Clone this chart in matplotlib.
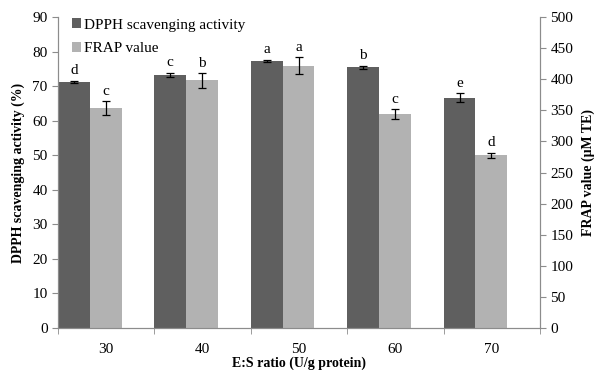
import numpy as np
import matplotlib
matplotlib.use("Agg")
import matplotlib.pyplot as plt

plt.rcParams['font.family'] = ['Liberation Serif', 'DejaVu Serif']

# data
ratios = ["30", "40", "50", "60", "70"]
dpph = [71.2, 73.2, 77.3, 75.4, 66.6]
dpph_err = [0.4, 0.7, 0.3, 0.5, 1.3]
dpph_letters = ["d", "c", "a", "b", "e"]
frap = [354, 398, 422, 344, 278]
frap_err = [11, 12, 13, 8, 4]
frap_letters = ["c", "b", "a", "c", "d"]

dark = "#5f5f5f"
light = "#b2b2b2"
spine_col = "#8c8c8c"

fig = plt.figure(figsize=(5.98, 3.70), dpi=100)
ax = fig.add_axes([0.097, 0.1135, 0.806, 0.8405])
ax2 = ax.twinx()

x = np.arange(len(ratios))
w = 0.33
# bars sit at the left of each category slot
x_d = x - 0.5 + w / 2
x_f = x - 0.5 + w + w / 2

ax.bar(x_d, dpph, w, color=dark, label="DPPH scavenging activity", zorder=2)
ax.errorbar(x_d, dpph, yerr=dpph_err, fmt="none", ecolor="black", elinewidth=0.9, capsize=3, capthick=0.9, zorder=3)
ax2.bar(x_f, frap, w, color=light, label="FRAP value", zorder=2)
ax2.errorbar(x_f, frap, yerr=frap_err, fmt="none", ecolor="black", elinewidth=0.9, capsize=3, capthick=0.9, zorder=3)

for xi, v, e, t in zip(x_d, dpph, dpph_err, dpph_letters):
    ax.text(xi, v + e + 1.0, t, ha="center", va="bottom", fontsize=11)
for xi, v, e, t in zip(x_f, frap, frap_err, frap_letters):
    ax2.text(xi, v + e + 5, t, ha="center", va="bottom", fontsize=11)

ax.set_xlim(-0.5, len(ratios) - 0.5)
ax.set_ylim(0, 90)
ax2.set_ylim(0, 500)
ax.set_yticks(np.arange(0, 91, 10))
ax2.set_yticks(np.arange(0, 501, 50))
ax.set_xticks(x)
ax.set_xticklabels(ratios)
ax.set_xticks(np.arange(-0.5, len(ratios)), minor=True)
ax.tick_params(axis="x", which="major", length=0, pad=11, labelsize=11)
ax.tick_params(axis="x", which="minor", length=4, color=spine_col)
ax.tick_params(axis="y", length=4, color=spine_col, labelsize=11)
ax2.tick_params(axis="y", length=4, color=spine_col, labelsize=11)

for a in (ax, ax2):
    a.spines["top"].set_visible(False)
    for s in ("left", "right", "bottom"):
        a.spines[s].set_color(spine_col)

ax.set_ylabel("DPPH scavenging activity (%)", fontweight="bold", fontsize=10, labelpad=5)
ax2.set_ylabel("FRAP value (\u03bcM TE)", fontweight="bold", fontsize=10, labelpad=6)
ax.set_xlabel("E:S ratio (U/g protein)", fontweight="bold", fontsize=10, labelpad=0)

h1, l1 = ax.get_legend_handles_labels()
h2, l2 = ax2.get_legend_handles_labels()
ax.legend(h1 + h2, l1 + l2, loc="upper left", bbox_to_anchor=(0.0, 1.04), frameon=False,
          fontsize=11, handlelength=0.6, handleheight=0.6, handletextpad=0.2, labelspacing=0.7)

fig.savefig("out.png", dpi=100)
